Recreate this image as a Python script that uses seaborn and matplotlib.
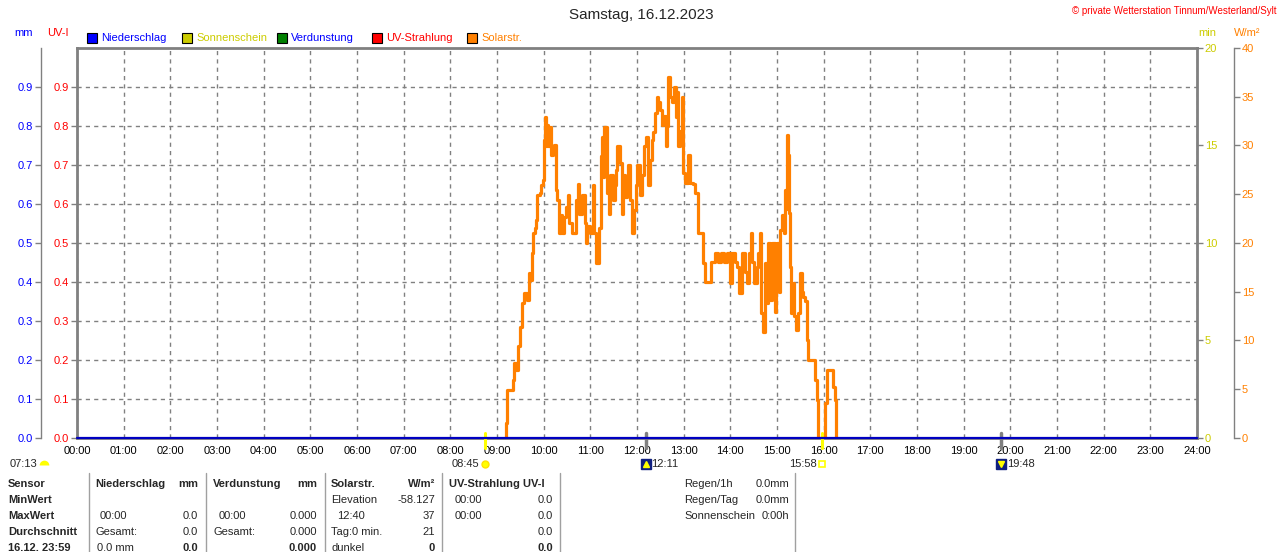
import numpy as np
import pandas as pd
import matplotlib
matplotlib.use("Agg")
import matplotlib.pyplot as plt
import seaborn as sns
from matplotlib.patches import Rectangle
from matplotlib.lines import Line2D

# ---------------- data ----------------
solar_minutes = [551.4, 552.1, 553.4, 559.8, 561.1, 562.4, 565.0, 567.5, 570.1, 572.7,
                 575.2, 579.1, 581.7, 583.0, 585.5, 586.8, 589.4, 590.7, 592.0, 595.8,
                 597.1, 599.7, 601.0, 602.3, 603.6, 604.8, 606.1, 608.7, 610.0, 612.6,
                 613.9, 616.4, 617.7, 620.3, 622.9, 624.1, 626.7, 629.3, 631.9, 633.2,
                 637.0, 642.2, 644.7, 646.0, 649.9, 652.5, 655.0, 656.3, 660.2, 662.8,
                 665.3, 667.9, 670.5, 674.3, 675.6, 676.9, 678.2, 680.8, 684.6, 685.9,
                 688.5, 691.1, 693.6, 694.9, 697.5, 700.1, 701.4, 705.2, 706.5, 707.8,
                 710.4, 713.0, 715.5, 718.1, 719.4, 723.3, 725.8, 728.4, 731.0, 733.5,
                 736.1, 738.7, 740.0, 742.6, 745.1, 746.4, 749.0, 751.6, 752.9, 756.7,
                 758.0, 759.3, 761.9, 764.5, 767.0, 769.6, 770.9, 772.2, 774.8, 777.3,
                 778.6, 781.2, 785.1, 787.7, 791.5, 794.1, 798.0, 803.1, 804.4, 807.0,
                 813.4, 814.7, 819.8, 823.7, 827.5, 831.4, 835.2, 839.1, 841.7, 845.5,
                 848.1, 850.7, 854.5, 858.4, 860.9, 863.5, 866.1, 867.4, 870.0, 873.8,
                 875.1, 877.7, 879.0, 881.5, 884.1, 886.7, 888.0, 890.6, 893.1, 897.0,
                 898.3, 899.6, 902.2, 903.4, 906.0, 908.6, 909.9, 911.2, 912.4, 913.7,
                 915.0, 916.3, 917.6, 920.2, 921.5, 924.0, 926.6, 929.2, 931.8, 933.0,
                 935.6, 938.2, 939.5, 945.9, 948.5, 951.1, 952.4, 961.3, 963.9, 970.3,
                 971.6, 974.2, 975.5]
solar_wm2 = [0.0, 1.5, 4.9, 4.9, 6.0, 7.7, 7.0, 9.4, 11.4, 13.8,
             14.9, 14.2, 16.9, 16.2, 19.0, 21.0, 21.5, 22.4, 24.9, 25.1,
             25.9, 26.5, 30.6, 32.9, 29.9, 32.1, 29.9, 31.9, 29.0, 29.5,
             30.0, 25.4, 24.4, 21.0, 22.9, 21.0, 22.7, 23.7, 24.9, 22.0,
             21.0, 24.4, 26.1, 23.0, 24.9, 22.0, 20.0, 21.7, 21.0, 25.9,
             21.0, 17.9, 21.5, 28.9, 30.9, 26.8, 31.9, 25.1, 23.0, 27.0,
             24.4, 25.9, 27.5, 29.9, 28.2, 23.0, 27.0, 24.7, 26.1, 28.0,
             24.4, 21.0, 23.4, 25.9, 28.0, 24.9, 27.0, 29.9, 30.9, 25.9,
             28.5, 30.6, 31.4, 33.3, 35.0, 34.5, 33.6, 32.1, 33.0, 29.9,
             32.0, 37.0, 35.0, 34.5, 36.0, 32.9, 35.5, 29.9, 31.5, 35.0,
             27.2, 26.2, 29.0, 26.2, 26.0, 25.1, 21.0, 21.0, 17.9, 16.0,
             16.0, 18.1, 19.0, 18.0, 19.0, 18.0, 19.0, 15.9, 19.0, 18.0,
             17.5, 14.9, 19.0, 17.0, 15.9, 19.0, 21.0, 18.0, 15.9, 17.5,
             19.0, 21.0, 12.8, 10.9, 17.9, 13.8, 20.0, 14.2, 20.0, 12.9,
             17.9, 20.0, 15.0, 21.3, 22.9, 21.0, 25.4, 23.5, 31.1, 29.0,
             23.1, 17.5, 12.8, 15.9, 12.5, 11.1, 12.8, 16.9, 15.0, 14.5,
             14.0, 10.1, 8.0, 8.0, 5.9, 3.9, 0.0, 3.6, 7.0, 7.0,
             5.2, 3.9, 0.0]
rain_hours = [0, 24]
rain_mm = [0.0, 0.0]

hour_labels = [f"{h:02d}:00" for h in range(25)]
uv_ticks = [0.0, 0.1, 0.2, 0.3, 0.4, 0.5, 0.6, 0.7, 0.8, 0.9]
mm_ticks = [0.0, 0.1, 0.2, 0.3, 0.4, 0.5, 0.6, 0.7, 0.8, 0.9]
min_ticks = [0, 5, 10, 15, 20]
wm2_ticks = [0, 5, 10, 15, 20, 25, 30, 35, 40]

title = "Samstag, 16.12.2023"
copyright_txt = "\u00a9 private Wetterstation Tinnum/Westerland/Sylt"
legend_names = ["Niederschlag", "Sonnenschein", "Verdunstung", "UV-Strahlung", "Solarstr."]
legend_box_colors = ["#0000ff", "#cccc00", "#008000", "#ff0000", "#ff8000"]
legend_text_colors = ["#0000ff", "#cccc00", "#0000ff", "#ff0000", "#ff8000"]

sunrise, sunset = "08:45", "15:58"
moonrise, moonset = "12:11", "19:48"
dawn = "07:13"

# ---------------- styling ----------------
sns.set_theme(style="white")
plt.rcParams['font.family'] = ['Liberation Sans', 'DejaVu Sans']

W, H = 1280, 552
fig = plt.figure(figsize=(W / 100, H / 100), dpi=100)
fig.patch.set_facecolor("white")

def fx(x):
    return x / W

def fy(y):
    return 1 - y / H

GRAY = "#808080"
BLUE = "#0000ff"
RED = "#ff0000"
YEL = "#cccc00"
ORA = "#ff8000"

L, R, B, T = fx(77), fx(1197), fy(438), fy(48)
ax = fig.add_axes([L, B, R - L, T - B])
ax.set_xlim(0, 24)
ax.set_ylim(0, 1.0)
ax.set_facecolor("white")

ax.set_xticks(range(25))
ax.set_xticklabels(hour_labels)
ax.tick_params(axis='x', length=0, pad=6, labelsize=8, colors='black')
ax.set_yticks(uv_ticks)
ax.set_yticklabels([f"{v:.1f}" for v in uv_ticks])
ax.tick_params(axis='y', length=4, width=1, color=GRAY, pad=1.5, labelsize=8, labelcolor=RED)
ax.grid(True, color=GRAY, linestyle=(0, (3, 3)), linewidth=1)
for s in ['left', 'top', 'right', 'bottom']:
    ax.spines[s].set_color(GRAY)
    ax.spines[s].set_linewidth(2)
ax.set_xlabel("")
ax.set_ylabel("")

# W/m2 axis (outer right)
ax_w = ax.twinx()
ax_w.set_ylim(0, 40)
ax_w.spines['right'].set_position(('outward', 37 * 0.72))
ax_w.spines['right'].set_color(GRAY)
ax_w.spines['right'].set_linewidth(1)
for s in ['left', 'top', 'bottom']:
    ax_w.spines[s].set_visible(False)
ax_w.set_yticks(wm2_ticks)
ax_w.set_yticklabels([str(v) for v in wm2_ticks])
ax_w.tick_params(axis='y', length=4, width=1, color=GRAY, pad=1.5, labelsize=8, labelcolor=ORA)
ax_w.grid(False)

# min axis (inner right)
ax_min = ax.twinx()
ax_min.set_ylim(0, 20)
for s in ['left', 'top', 'bottom', 'right']:
    ax_min.spines[s].set_visible(False)
ax_min.set_yticks(min_ticks)
ax_min.set_yticklabels([str(v) for v in min_ticks])
ax_min.tick_params(axis='y', length=4, width=1, color=GRAY, pad=1.5, labelsize=8, labelcolor=YEL)
ax_min.grid(False)

# solar curve
df_solar = pd.DataFrame({"hour": np.array(solar_minutes) / 60.0, "wm2": solar_wm2})
sns.lineplot(data=df_solar, x="hour", y="wm2", ax=ax_w, color=ORA, linewidth=2.3,
             drawstyle='steps-post', estimator=None, sort=False)
ax_w.set_xlabel("")
ax_w.set_ylabel("")
ax_w.set_xlim(0, 24)

# mm axis (outer left) with rain series
ax_mm = ax.twinx()
ax_mm.set_ylim(0, 1.0)
ax_mm.yaxis.set_ticks_position('left')
ax_mm.yaxis.set_label_position('left')
ax_mm.spines['left'].set_position(('outward', 36 * 0.72))
ax_mm.spines['left'].set_color(GRAY)
ax_mm.spines['left'].set_linewidth(1)
for s in ['right', 'top', 'bottom']:
    ax_mm.spines[s].set_visible(False)
ax_mm.set_yticks(mm_ticks)
ax_mm.set_yticklabels([f"{v:.1f}" for v in mm_ticks])
ax_mm.tick_params(axis='y', length=4, width=1, color=GRAY, pad=1.5, labelsize=8, labelcolor=BLUE)
ax_mm.grid(False)
df_rain = pd.DataFrame({"hour": rain_hours, "mm": rain_mm})
sns.lineplot(data=df_rain, x="hour", y="mm", ax=ax_mm, color="#0000c0", linewidth=1.6,
             estimator=None, clip_on=False)
ax_mm.set_xlabel("")
ax_mm.set_ylabel("")
ax_mm.set_xlim(0, 24)

# ---------------- sun / moon events ----------------
def hm(s):
    h, m = s.split(":")
    return int(h) + int(m) / 60.0

xt = ax.get_xaxis_transform()
ev_y = (438 - 464) / 390.0
for t, col, lw in [(sunrise, "#ffff00", 2.2), (sunset, "#ffff00", 2.2),
                   (moonrise, GRAY, 2.5), (moonset, GRAY, 2.5)]:
    ax.plot([hm(t), hm(t)], [-0.026, 0.012], transform=xt, color=col, lw=lw,
            clip_on=False, zorder=5)

# sunrise: text left of marker, sun icon
ax.text(hm(sunrise) - 0.13, ev_y, sunrise, transform=xt, ha='right', va='center', fontsize=8)
ax.plot([hm(sunrise)], [ev_y], transform=xt, marker='o', ms=5, color="#ffff00",
        mec="#ffe000", clip_on=False)
# sunset
ax.text(hm(sunset) - 0.11, ev_y, sunset, transform=xt, ha='right', va='center', fontsize=8)
ax.plot([hm(sunset)], [ev_y], transform=xt, marker='s', ms=5, mfc="white",
        mec="#ffff00", mew=1.2, clip_on=False)
# moonrise / moonset icons
for t, m in [(moonrise, '^'), (moonset, 'v')]:
    ax.plot([hm(t)], [ev_y], transform=xt, marker='s', ms=7, color="#102080", clip_on=False)
    ax.plot([hm(t)], [ev_y], transform=xt, marker=m, ms=4, color="#ffff00", clip_on=False)
    ax.text(hm(t) + 0.12, ev_y, t, transform=xt, ha='left', va='center', fontsize=8)
# dawn at far left
fig.text(fx(10), fy(464), dawn, ha='left', va='center', fontsize=8)
fig.add_artist(Line2D([fx(44)], [fy(465)], marker='o', ms=7, fillstyle='top',
                      mfc="#ffff00", mfcalt='none', mew=0, color="#ffff00"))

# ---------------- header ----------------
fig.text(fx(641), fy(15), title, ha='center', va='center', fontsize=11)
fig.text(fx(1276), fy(11), copyright_txt, ha='right', va='center', fontsize=7, color=RED)
fig.text(fx(14), fy(33), "mm", ha='left', va='center', fontsize=8, color=BLUE)
fig.text(fx(47), fy(33), "UV-I", ha='left', va='center', fontsize=8, color=RED)
fig.text(fx(1198), fy(33), "min", ha='left', va='center', fontsize=8, color=YEL)
fig.text(fx(1234), fy(33), "W/m\u00b2", ha='left', va='center', fontsize=8, color=ORA)

box_x = [87, 182, 277, 372, 467]
for bx, name, bc, tc in zip(box_x, legend_names, legend_box_colors, legend_text_colors):
    fig.add_artist(Rectangle((fx(bx), fy(43)), fx(10), 10 / H, facecolor=bc,
                             edgecolor='black', linewidth=0.8))
    fig.text(fx(bx + 14), fy(38), name, ha='left', va='center', fontsize=8, color=tc)

# ---------------- table ----------------
for sx in [89, 206, 325, 442, 560, 795]:
    fig.add_artist(Line2D([fx(sx), fx(sx)], [fy(473), fy(552)], color="#a0a0a0", lw=1))

rows = [484, 500, 516, 532, 548]
left_col = ["Sensor", "MinWert", "MaxWert", "Durchschnitt", "16.12. 23:59"]
for y, s in zip(rows, left_col):
    fig.text(fx(8), fy(y), s, ha='left', va='center', fontsize=8, fontweight='bold')

def cell(x, y, s, ha='left', bold=False):
    fig.text(fx(x), fy(y), s, ha=ha, va='center', fontsize=8,
             fontweight='bold' if bold else 'normal')

# Niederschlag
cell(95, 484, "Niederschlag", bold=True); cell(198, 484, "mm", 'right', True)
cell(100, 516, "00:00"); cell(198, 516, "0.0", 'right')
cell(95, 532, "Gesamt:"); cell(198, 532, "0.0", 'right')
cell(97, 548, "0.0 mm"); cell(198, 548, "0.0", 'right', True)
# Verdunstung
cell(213, 484, "Verdunstung", bold=True); cell(317, 484, "mm", 'right', True)
cell(219, 516, "00:00"); cell(317, 516, "0.000", 'right')
cell(213, 532, "Gesamt:"); cell(317, 532, "0.000", 'right')
cell(317, 548, "0.000", 'right', True)
# Solarstr.
cell(331, 484, "Solarstr.", bold=True); cell(435, 484, "W/m\u00b2", 'right', True)
cell(331, 500, "Elevation"); cell(435, 500, "-58.127", 'right')
cell(337, 516, "12:40"); cell(435, 516, "37", 'right')
cell(331, 532, "Tag:0 min."); cell(435, 532, "21", 'right')
cell(331, 548, "dunkel"); cell(435, 548, "0", 'right', True)
# UV
cell(449, 484, "UV-Strahlung UV-I", bold=True)
cell(455, 500, "00:00"); cell(553, 500, "0.0", 'right')
cell(455, 516, "00:00"); cell(553, 516, "0.0", 'right')
cell(553, 532, "0.0", 'right')
cell(553, 548, "0.0", 'right', True)
# right block
cell(684, 484, "Regen/1h"); cell(789, 484, "0.0mm", 'right')
cell(684, 500, "Regen/Tag"); cell(789, 500, "0.0mm", 'right')
cell(684, 516, "Sonnenschein"); cell(789, 516, "0:00h", 'right')

fig.savefig("out.png", dpi=100, facecolor="white")
